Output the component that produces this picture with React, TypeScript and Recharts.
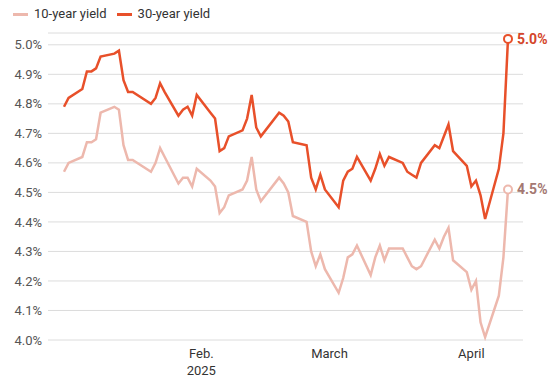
import { LineChart, Line, XAxis, YAxis, CartesianGrid } from 'recharts';

const dates = [
  '2025-01-02', '2025-01-03', '2025-01-06', '2025-01-07', '2025-01-08', '2025-01-09', '2025-01-10',
  '2025-01-13', '2025-01-14', '2025-01-15', '2025-01-16', '2025-01-17',
  '2025-01-21', '2025-01-22', '2025-01-23', '2025-01-24',
  '2025-01-27', '2025-01-28', '2025-01-29', '2025-01-30', '2025-01-31',
  '2025-02-03', '2025-02-04', '2025-02-05', '2025-02-06', '2025-02-07',
  '2025-02-10', '2025-02-11', '2025-02-12', '2025-02-13', '2025-02-14',
  '2025-02-18', '2025-02-19', '2025-02-20', '2025-02-21',
  '2025-02-24', '2025-02-25', '2025-02-26', '2025-02-27', '2025-02-28',
  '2025-03-03', '2025-03-04', '2025-03-05', '2025-03-06', '2025-03-07',
  '2025-03-10', '2025-03-11', '2025-03-12', '2025-03-13', '2025-03-14',
  '2025-03-17', '2025-03-18', '2025-03-19', '2025-03-20', '2025-03-21',
  '2025-03-24', '2025-03-25', '2025-03-26', '2025-03-27', '2025-03-28',
  '2025-03-31', '2025-04-01', '2025-04-02', '2025-04-03', '2025-04-04',
  '2025-04-07', '2025-04-08', '2025-04-09',
];

const tenYear = [
  4.57, 4.6, 4.62, 4.67, 4.67, 4.68, 4.77,
  4.79, 4.78, 4.66, 4.61, 4.61,
  4.57, 4.6, 4.65, 4.62,
  4.53, 4.55, 4.55, 4.52, 4.58,
  4.54, 4.52, 4.43, 4.45, 4.49,
  4.51, 4.54, 4.62, 4.51, 4.47,
  4.55, 4.53, 4.5, 4.42,
  4.4, 4.3, 4.25, 4.29, 4.24,
  4.16, 4.21, 4.28, 4.29, 4.32,
  4.22, 4.28, 4.32, 4.27, 4.31,
  4.31, 4.28, 4.25, 4.24, 4.25,
  4.34, 4.31, 4.35, 4.38, 4.27,
  4.23, 4.17, 4.2, 4.06, 4.01,
  4.15, 4.28, 4.51,
];

const thirtyYear = [
  4.79, 4.82, 4.85, 4.91, 4.91, 4.92, 4.96,
  4.97, 4.98, 4.88, 4.84, 4.84,
  4.8, 4.82, 4.87, 4.84,
  4.76, 4.78, 4.79, 4.76, 4.83,
  4.77, 4.75, 4.64, 4.65, 4.69,
  4.71, 4.75, 4.83, 4.72, 4.69,
  4.77, 4.76, 4.74, 4.67,
  4.66, 4.55, 4.51, 4.56, 4.51,
  4.45, 4.54, 4.57, 4.58, 4.62,
  4.54, 4.58, 4.63, 4.59, 4.62,
  4.6, 4.57, 4.56, 4.55, 4.6,
  4.66, 4.65, 4.69, 4.73, 4.64,
  4.59, 4.52, 4.54, 4.49, 4.41,
  4.58, 4.7, 5.02,
];

const xTickDates = ['2025-02-01', '2025-03-01', '2025-04-01'];
const xTickLabels = [['Feb.', '2025'], ['March'], ['April']];
const yTicks = [4.0, 4.1, 4.2, 4.3, 4.4, 4.5, 4.6, 4.7, 4.8, 4.9, 5.0];

const FONT = 'Roboto, "Liberation Sans", sans-serif';
const TEN_COLOR = '#edb8ad';
const THIRTY_COLOR = '#e8502a';

const toTs = (d: string) => Date.parse(d + 'T00:00:00Z');

const data = dates.map((d, i) => ({ t: toTs(d), ten: tenYear[i], thirty: thirtyYear[i] }));
const xTicks = xTickDates.map(toTs);

const XTick = (props: any) => {
  const { x, y, payload } = props;
  const idx = xTicks.indexOf(payload.value);
  const lines = idx >= 0 ? xTickLabels[idx] : [];
  return (
    <text x={x} y={y} textAnchor="middle" fill="#333" fontSize={13} fontFamily={FONT}>
      {lines.map((l, i) => (
        <tspan key={l} x={x} dy={i === 0 ? '0.8em' : '1.3em'}>{l}</tspan>
      ))}
    </text>
  );
};

const endDot = (color: string, textColor: string) => (props: any) => {
  const { cx, cy, index, value } = props;
  if (index !== data.length - 1) return <g key={`d${index}`} />;
  const v = Array.isArray(value) ? value[1] : value;
  return (
    <g key={`d${index}`}>
      <circle cx={cx} cy={cy} r={4} fill="#fff" stroke={color} strokeWidth={2} />
      <text x={cx + 9} y={cy + 5} fill={textColor} fontSize={14} fontWeight={700} fontFamily={FONT}>
        {v.toFixed(1)}%
      </text>
    </g>
  );
};

const LegendItem = ({ color, label }: { color: string; label: string }) => (
  <div style={{ display: 'flex', alignItems: 'center', marginRight: 10 }}>
    <div style={{ width: 15, height: 3, background: color, marginRight: 6 }} />
    <span>{label}</span>
  </div>
);

export default function App() {
  return (
    <div style={{ position: 'absolute', left: 0, top: 0, width: 559, height: 388, fontFamily: FONT, background: '#fff' }}>
      <div style={{ position: 'absolute', left: 13, top: 5, display: 'flex', fontSize: 13, color: '#333', lineHeight: '18px' }}>
        <LegendItem color={TEN_COLOR} label="10-year yield" />
        <LegendItem color={THIRTY_COLOR} label="30-year yield" />
      </div>
      <LineChart width={559} height={388} data={data} margin={{ top: 33, right: 36, bottom: 8, left: 0 }}>
        <CartesianGrid vertical={false} stroke="#dcdcdc" />
        <XAxis
          dataKey="t"
          type="number"
          domain={[toTs(dates[0]), toTs(dates[dates.length - 1])]}
          ticks={xTicks}
          tick={<XTick />}
          tickLine={false}
          axisLine={false}
          height={40}
          padding={{ left: 16, right: 15 }}
        />
        <YAxis
          domain={[4.0, 5.04]}
          ticks={yTicks}
          tickFormatter={(v: number) => `${v.toFixed(1)}%`}
          tick={{ fill: '#555', fontSize: 13, fontFamily: FONT }}
          tickLine={false}
          axisLine={false}
          tickSize={4}
          width={48}
        />
        <Line
          dataKey="ten"
          stroke={TEN_COLOR}
          strokeWidth={2.5}
          type="linear"
          dot={endDot(TEN_COLOR, '#a47872')}
          activeDot={false}
          isAnimationActive={false}
        />
        <Line
          dataKey="thirty"
          stroke={THIRTY_COLOR}
          strokeWidth={2.5}
          type="linear"
          dot={endDot(THIRTY_COLOR, '#d4452a')}
          activeDot={false}
          isAnimationActive={false}
        />
      </LineChart>
    </div>
  );
}
